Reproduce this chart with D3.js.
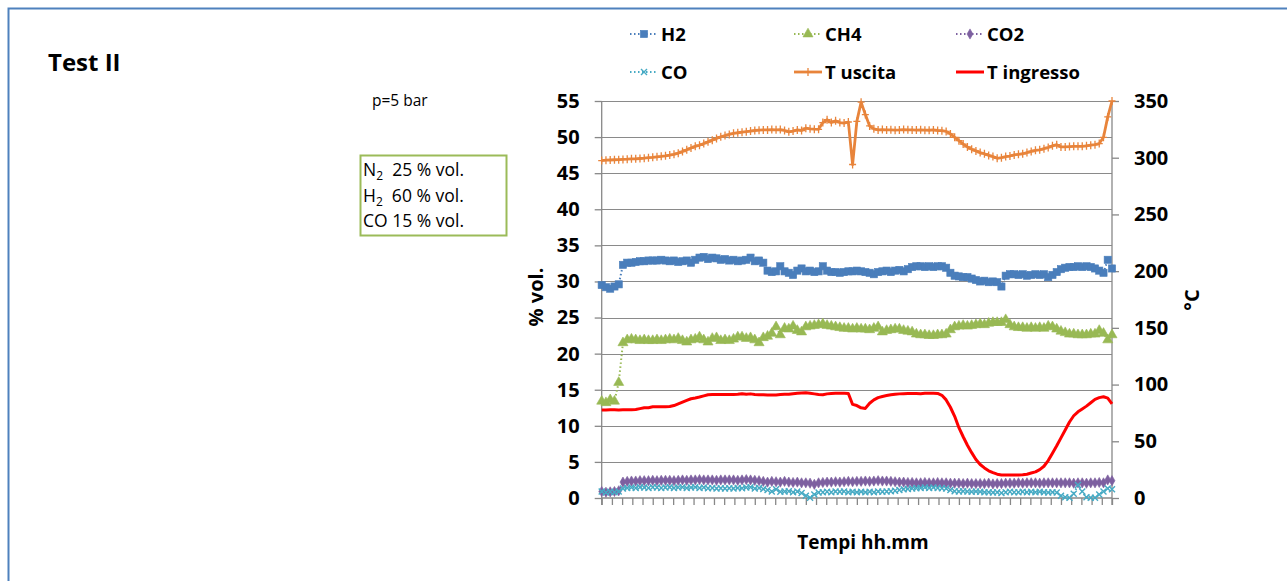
<!DOCTYPE html>
<html><head><meta charset="utf-8">
<script src="https://cdn.jsdelivr.net/npm/d3@7"></script>
<style>
html,body{margin:0;padding:0;background:#fff;}
svg text{font-family:"Open Sans",sans-serif;fill:#000;white-space:pre;}
</style></head>
<body>
<svg id="chart" width="1287" height="581"></svg>
<script>
// ---- data ----
const leftTicks = [0,5,10,15,20,25,30,35,40,45,50,55];
const rightTicks = [0,50,100,150,200,250,300,350];
const seriesNames = ["H2","CH4","CO2","CO","T uscita","T ingresso"];
const boxLines = [["N","2","  25 % vol."],["H","2","  60 % vol."],["CO 15 % vol.","",""]];

const h2 = [29.5,29.2,29.0,29.3,29.6,32.3,32.6,32.6,32.7,32.8,
 32.8,32.9,32.9,32.9,33.0,32.9,32.8,32.9,32.7,32.8,
 32.9,32.6,33.0,33.3,33.4,33.1,33.3,33.2,33.0,33.1,
 32.9,33.0,32.8,32.9,33.0,33.3,32.8,32.9,32.6,31.5,
 31.3,31.4,32.1,31.4,31.2,30.9,31.5,31.8,31.4,31.5,
 31.3,31.4,32.1,31.5,31.3,31.3,31.2,31.3,31.4,31.4,
 31.5,31.4,31.3,31.2,31.0,31.3,31.4,31.5,31.3,31.5,
 31.6,31.4,31.7,32.0,32.1,32.1,32.0,32.1,32.0,32.1,
 32.1,31.9,31.2,30.8,30.7,30.6,30.6,30.4,30.2,30.0,
 30.1,29.9,30.0,29.9,29.3,30.8,31.0,31.0,30.9,31.0,
 30.8,30.9,31.0,30.9,31.0,30.6,30.9,31.3,31.7,31.9,
 32.0,32.0,32.1,32.0,32.1,32.0,31.8,31.5,31.2,33.0,
 31.8];
const ch4 = [13.4,13.2,13.6,13.4,16.0,21.5,21.9,22.0,21.9,21.8,
 21.9,21.8,21.8,21.9,21.8,21.9,22.0,21.9,22.1,21.8,
 21.6,21.9,22.0,22.3,21.9,21.6,22.1,22.2,21.8,21.9,
 21.8,22.0,22.3,22.3,22.1,22.2,21.9,21.5,22.2,22.4,
 22.8,23.7,22.6,23.5,23.4,23.8,23.2,23.0,23.7,23.8,
 23.9,24.0,24.1,23.9,23.8,23.7,23.6,23.5,23.5,23.4,
 23.5,23.4,23.4,23.3,23.5,23.7,23.0,23.2,23.3,23.4,
 23.4,23.2,23.1,23.0,22.7,22.6,22.6,22.5,22.5,22.6,
 22.6,22.7,23.3,23.7,23.8,23.9,23.8,23.9,24.0,24.1,
 24.0,24.2,24.3,24.3,24.3,24.7,24.0,23.7,23.6,23.6,
 23.5,23.6,23.5,23.6,23.5,23.8,23.7,23.4,23.1,22.9,
 22.7,22.7,22.6,22.6,22.6,22.7,22.7,23.2,22.8,21.9,
 22.6];
const co2 = [0.9,0.8,0.85,0.9,1.0,2.2,2.3,2.35,2.35,2.4,
 2.4,2.4,2.45,2.4,2.45,2.45,2.45,2.4,2.45,2.5,
 2.45,2.5,2.5,2.55,2.5,2.5,2.5,2.45,2.5,2.5,
 2.5,2.5,2.45,2.5,2.55,2.5,2.45,2.4,2.3,2.2,
 2.3,2.25,2.2,2.3,2.2,2.15,2.2,2.1,2.1,2.05,
 1.9,2.1,2.15,2.2,2.2,2.25,2.2,2.25,2.3,2.25,
 2.3,2.3,2.35,2.3,2.35,2.4,2.35,2.35,2.3,2.25,
 2.2,2.2,2.15,2.15,2.1,2.1,2.15,2.1,2.1,2.15,
 2.1,2.1,2.05,2.05,2.05,2.0,2.05,2.0,2.0,2.0,
 2.0,2.05,1.95,2.0,2.0,2.05,2.05,2.05,2.1,2.05,
 2.1,2.1,2.1,2.05,2.1,2.1,2.1,2.1,2.1,2.1,
 2.1,2.05,2.1,2.1,2.05,2.1,2.1,2.15,2.1,2.5,
 2.4];
const co = [0.9,0.75,0.85,0.8,0.9,1.3,1.4,1.45,1.4,1.5,
 1.45,1.4,1.5,1.45,1.4,1.45,1.5,1.4,1.45,1.5,
 1.4,1.45,1.5,1.4,1.45,1.35,1.4,1.3,1.35,1.3,
 1.35,1.3,1.4,1.35,1.45,1.5,1.3,1.4,1.25,1.1,
 0.9,1.2,0.85,0.9,0.95,0.8,0.9,0.7,0.3,0.05,
 0.5,0.75,0.8,0.85,0.8,0.9,0.85,0.9,0.8,0.85,
 0.8,0.85,0.8,0.85,0.8,0.9,0.85,0.9,0.95,1.0,
 1.1,1.2,1.25,1.3,1.35,1.4,1.45,1.4,1.45,1.4,
 1.35,1.3,1.1,0.95,0.9,0.95,0.9,0.85,0.9,0.85,
 0.8,0.8,0.75,0.8,0.7,0.8,0.85,0.8,0.8,0.85,
 0.8,0.85,0.8,0.85,0.8,0.75,0.8,0.75,0.3,0.1,
 0.05,0.6,1.8,0.9,0.1,0.05,0.05,0.5,0.9,1.3,
 1.2];
const tUscita = [297.5,297.8,298,298.2,298.3,298.5,298.7,299,299,299.3,
 299.6,300,300.3,300.8,301.2,301.7,302.3,303,304,305.5,
 307,308.5,310,311,312.5,314,315.5,317,318.5,319.5,
 320.5,321.5,322,322.5,323,323.5,324,324.3,324.5,324.5,
 324.8,324.6,324.8,324,322.8,323.5,324.5,324,326,325.5,
 325.2,325,331,333.5,331,332.5,331,330.5,331.5,294,
 332,349,338,328,325.5,324.5,324.8,324.5,324.6,324.3,
 324.5,324.8,324.6,324.5,324.4,324.6,324.3,324.2,324.5,324.0,
 323.8,323.2,321,318,315,312,309.5,307.5,306,304.5,
 303.5,302,301,299.5,300,301,301.5,302.5,303,303.5,
 304.5,305.5,306.5,307,308,309,310.5,311.5,309.5,309.5,
 309.8,310,310,310,310.5,311,311.5,312.5,318,336,
 350];
const tIngresso = [77.5,77.6,77.7,77.7,77.6,77.7,77.7,77.8,78.0,78.8,
 79.5,79.6,80.4,80.5,80.5,80.5,80.6,81.5,83.0,84.5,
 86.0,87.5,88.2,89.0,90.0,91.0,91.2,91.2,91.2,91.2,
 91.3,91.2,91.5,92.0,91.5,91.8,91.3,91.0,91.0,90.8,
 90.8,90.9,91.2,91.5,91.5,92.0,92.3,92.5,92.7,92.3,
 91.8,91.3,91.0,91.8,92.2,92.3,92.3,92.3,92.2,82.5,
 81.5,79.5,79.0,83.5,86.5,88.5,89.5,90.3,91.0,91.5,
 91.8,92.0,92.1,92.2,92.2,92.0,92.3,92.3,92.3,92.2,
 90.5,86.5,80.0,72.0,62.0,54.0,46.5,40.0,34.0,29.5,
 26.5,24.0,22.3,21.0,20.3,20.2,20.2,20.2,20.2,20.5,
 21.0,22.0,23.0,25.0,28.0,33.0,39.5,46.0,53.0,60.0,
 67.0,72.5,76.0,78.5,81.0,84.0,87.0,88.5,89.3,88.0,
 83.0];

// ---- layout ----
const svg = d3.select("#chart");
const X0 = 601.7, X1 = 1112, YB = 498, YT = 101;
const N = h2.length;
const x = d3.scaleLinear().domain([0, N-1]).range([X0, X1]);
const yL = d3.scaleLinear().domain([0,55]).range([YB, YT]);
const yR = d3.scaleLinear().domain([0,350]).range([YB, YT]);
const nTickIntervals = 50;
const xTick = d3.scaleLinear().domain([0, nTickIntervals]).range([X0, X1]);

const colors = {H2:"#4A7EBB", CH4:"#98B954", CO2:"#7D60A0", CO:"#46AAC4", TU:"#E8843B", TI:"#FF0000"};
const axisGray = "#888888";

// frame
svg.append("path").attr("d","M8.5,581V8.5H1287").attr("fill","none").attr("stroke","#4F81BD").attr("stroke-width",2);

// gridlines
svg.append("g").selectAll("line").data(leftTicks.filter(d=>d>0)).join("line")
  .attr("x1",X0).attr("x2",X1).attr("y1",d=>Math.round(yL(d))+0.5).attr("y2",d=>Math.round(yL(d))+0.5)
  .attr("stroke","#8A8A8A").attr("stroke-width",1);

// left axis
const gL = svg.append("g").attr("transform",`translate(${X0},0)`)
  .call(d3.axisLeft(yL).tickValues(leftTicks).tickSize(7).tickPadding(15).tickFormat(d3.format("d")));
// right axis
const gR = svg.append("g").attr("transform",`translate(${X1},0)`)
  .call(d3.axisRight(yR).tickValues(rightTicks).tickSize(7).tickPadding(15).tickFormat(d3.format("d")));
// bottom axis (ticks only)
const gB = svg.append("g").attr("transform",`translate(0,${YB})`)
  .call(d3.axisBottom(xTick).tickValues(d3.range(0,nTickIntervals+1)).tickSize(7).tickFormat(""));
[gL,gR,gB].forEach(g=>{
  g.select(".domain").attr("stroke",axisGray).attr("stroke-width",1.3);
  g.selectAll(".tick line").attr("stroke",axisGray).attr("stroke-width",1.3);
  g.selectAll(".tick text").attr("font-family","'Open Sans',sans-serif").attr("font-weight","bold").attr("font-size",20).attr("fill","#000");
});
gL.select(".domain").attr("d",`M0,${YT}V${YB+7}`);
gR.select(".domain").attr("d",`M0,${YT}V${YB+7}`);
gB.select(".domain").attr("d",`M${X0},0H${X1}`);

// axis titles
svg.append("text").attr("transform","translate(543,297) rotate(-90)").attr("text-anchor","middle")
  .attr("font-weight","bold").attr("font-size",20).text("% vol.");
svg.append("text").attr("transform","translate(1199,300) rotate(-90)").attr("text-anchor","middle")
  .attr("font-weight","bold").attr("font-size",20).text("°C");
svg.append("text").attr("x",863).attr("y",549).attr("text-anchor","middle")
  .attr("font-weight","bold").attr("font-size",19).text("Tempi hh.mm");

// title & notes
svg.append("text").attr("x",48).attr("y",71).attr("font-weight","bold").attr("font-size",24).text("Test II");
svg.append("text").attr("x",372).attr("y",106).attr("font-size",15.5).text("p=5 bar");
svg.append("rect").attr("x",360.5).attr("y",155.5).attr("width",146).attr("height",80)
  .attr("fill","#fff").attr("stroke","#9BBB59").attr("stroke-width",2);
boxLines.forEach((ln,i)=>{
  const t = svg.append("text").attr("x",363).attr("y",176+i*25.5).attr("font-size",17.5);
  t.append("tspan").text(ln[0]);
  if (ln[1]) t.append("tspan").attr("dy",4).attr("font-size",12).text(ln[1]);
  if (ln[1]) t.append("tspan").attr("dy",-4).text(ln[2]);
});

// marker drawers
const markers = {
  square: (g,c)=>g.append("rect").attr("x",-3.6).attr("y",-3.6).attr("width",7.2).attr("height",7.2).attr("fill",c).attr("stroke",c).attr("stroke-width",0.6),
  triangle: (g,c)=>g.append("path").attr("d",d3.symbol(d3.symbolTriangle,44)()).attr("fill",c).attr("stroke",c).attr("stroke-width",0.6),
  diamond: (g,c)=>g.append("path").attr("d",d3.symbol(d3.symbolDiamond,30)()).attr("fill",c).attr("stroke",c).attr("stroke-width",0.6),
  cross: (g,c)=>g.append("path").attr("d","M-3,-3L3,3M-3,3L3,-3").attr("fill","none").attr("stroke",c).attr("stroke-width",1.4),
  plus: (g,c)=>g.append("path").attr("d","M-3.5,0H3.5M0,-4V4").attr("fill","none").attr("stroke",c).attr("stroke-width",1.3),
  none: ()=>{}
};

const series = [
  {name:seriesNames[0], data:h2, y:yL, color:colors.H2, marker:"square", dotted:true, w:2},
  {name:seriesNames[1], data:ch4, y:yL, color:colors.CH4, marker:"triangle", dotted:true, w:2},
  {name:seriesNames[2], data:co2, y:yL, color:colors.CO2, marker:"diamond", dotted:true, w:2},
  {name:seriesNames[3], data:co, y:yL, color:colors.CO, marker:"cross", dotted:true, w:2},
  {name:seriesNames[4], data:tUscita, y:yR, color:colors.TU, marker:"plus", dotted:false, w:2.8},
  {name:seriesNames[5], data:tIngresso, y:yR, color:colors.TI, marker:"none", dotted:false, w:3}
];

const plot = svg.append("g");
series.forEach(s=>{
  const line = d3.line().x((d,i)=>x(i)).y(d=>s.y(d));
  plot.append("path").datum(s.data).attr("d",line).attr("fill","none").attr("stroke",s.color)
    .attr("stroke-width",s.w).attr("stroke-dasharray",s.dotted?"1.5,2.5":null).attr("stroke-linejoin","round");
  if (s.marker!=="none") {
    const mg = plot.append("g");
    s.data.forEach((d,i)=>{
      const g = mg.append("g").attr("transform",`translate(${x(i)},${s.y(d)})`);
      markers[s.marker](g,s.color);
    });
  }
});

// legend
const legPos = [
  {x:630,y:34},{x:794,y:34},{x:956,y:34},
  {x:630,y:72},{x:794,y:72},{x:956,y:72}
];
series.forEach((s,i)=>{
  const p = legPos[i];
  const g = svg.append("g");
  g.append("line").attr("x1",p.x).attr("x2",p.x+28).attr("y1",p.y).attr("y2",p.y)
    .attr("stroke",s.color).attr("stroke-width",s.dotted?2:s.w).attr("stroke-dasharray",s.dotted?"1.5,2.5":null);
  const mg = g.append("g").attr("transform",`translate(${p.x+14},${p.y})`);
  markers[s.marker](mg,s.color);
  g.append("text").attr("x",p.x+31).attr("y",p.y+6.5).attr("font-weight","bold").attr("font-size",18.5).text(s.name);
});
</script>
</body></html>
